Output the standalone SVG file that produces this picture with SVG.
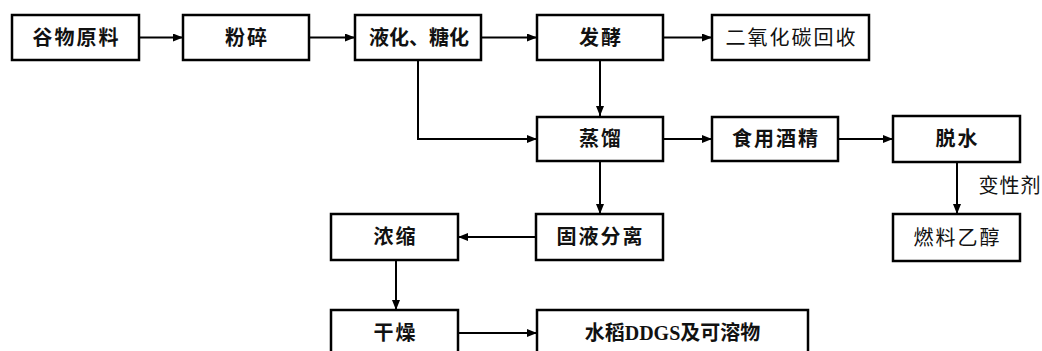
<svg xmlns="http://www.w3.org/2000/svg" width="1042" height="351" viewBox="0 0 1042 351">
<defs>
<marker id="ah" markerWidth="10" markerHeight="8" refX="10" refY="4" orient="auto" markerUnits="userSpaceOnUse">
<path d="M0,0 L10,4 L0,8 Z" fill="#000"/>
</marker>
<style>
.box{fill:#fff;stroke:#000;stroke-width:2.5}
.t{font-family:"Liberation Serif","Noto Sans CJK SC",serif;font-size:20px;font-weight:bold;text-anchor:middle;dominant-baseline:central;fill:#111;letter-spacing:2px}
.c{fill:none;stroke:#000;stroke-width:2}
</style>
</defs>
<rect width="1042" height="351" fill="#fff"/>
<g id="connectors">
<path class="c" d="M139,37.5 H183" marker-end="url(#ah)"/>
<path class="c" d="M309,37.5 H355" marker-end="url(#ah)"/>
<path class="c" d="M481,37.5 H537" marker-end="url(#ah)"/>
<path class="c" d="M663,37.5 H712" marker-end="url(#ah)"/>
<path class="c" d="M600,60 V116" marker-end="url(#ah)"/>
<path class="c" d="M418,60 V139 H537" marker-end="url(#ah)"/>
<path class="c" d="M663,139 H712" marker-end="url(#ah)"/>
<path class="c" d="M838,139 H893" marker-end="url(#ah)"/>
<path class="c" d="M957,162 V214" marker-end="url(#ah)"/>
<path class="c" d="M600,161 V214" marker-end="url(#ah)"/>
<path class="c" d="M536,237 H458" marker-end="url(#ah)"/>
<path class="c" d="M396,260 V310" marker-end="url(#ah)"/>
<path class="c" d="M458,333 H537" marker-end="url(#ah)"/>
<text class="t" x="1010" y="186" style="font-weight:normal;letter-spacing:1px">变性剂</text>
</g>
<g id="n1"><rect class="box" x="12" y="15" width="127" height="45"/><text class="t" x="76.5" y="37.5">谷物原料</text></g>
<g id="n2"><rect class="box" x="183" y="15" width="126" height="45"/><text class="t" x="247" y="37.5">粉碎</text></g>
<g id="n3"><rect class="box" x="355" y="15" width="126" height="45"/><text class="t" x="419" y="37.5" style="letter-spacing:0px">液化、糖化</text></g>
<g id="n4"><rect class="box" x="537" y="15" width="126" height="45"/><text class="t" x="601" y="37.5">发酵</text></g>
<g id="n5"><rect class="box" x="712" y="15" width="157" height="45"/><text class="t" x="791.5" y="37.5" style="font-weight:normal">二氧化碳回收</text></g>
<g id="n6"><rect class="box" x="537" y="117" width="126" height="44"/><text class="t" x="601" y="139">蒸馏</text></g>
<g id="n7"><rect class="box" x="712" y="117" width="126" height="44"/><text class="t" x="776" y="139">食用酒精</text></g>
<g id="n8"><rect class="box" x="893" y="116" width="127" height="46"/><text class="t" x="957.5" y="139">脱水</text></g>
<g id="n9"><rect class="box" x="893" y="214" width="127" height="47"/><text class="t" x="957.5" y="237.5" style="font-weight:normal">燃料乙醇</text></g>
<g id="n10"><rect class="box" x="536" y="214" width="127" height="46"/><text class="t" x="600.5" y="237">固液分离</text></g>
<g id="n11"><rect class="box" x="331" y="214" width="127" height="46"/><text class="t" x="395.5" y="237">浓缩</text></g>
<g id="n12"><rect class="box" x="331" y="310" width="127" height="46"/><text class="t" x="395.5" y="333">干燥</text></g>
<g id="n13"><rect class="box" x="537" y="310" width="271" height="46"/><text class="t" x="672.5" y="333" style="letter-spacing:0px">水稻DDGS及可溶物</text></g>
</svg>
